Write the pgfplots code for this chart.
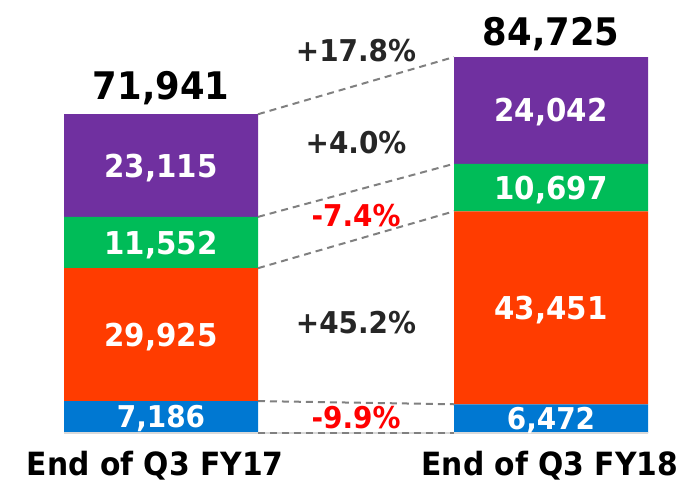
\documentclass[border=0pt]{standalone}
\usepackage{pgfplots}
\pgfplotsset{compat=1.18}
\usepackage{fontspec}
\setmainfont{DejaVu Sans}[FakeStretch=0.93]
\definecolor{cblue}{RGB}{0,120,210}
\definecolor{cred}{RGB}{255,60,0}
\definecolor{cgreen}{RGB}{0,188,88}
\definecolor{cpurple}{RGB}{112,48,160}
\definecolor{cpos}{RGB}{38,38,38}
\definecolor{cneg}{RGB}{255,0,0}
\definecolor{dline}{RGB}{128,128,128}
\definecolor{baseln}{RGB}{217,217,217}
\pgfplotsset{
  base/.style={scale only axis, width=687pt, height=482pt,
    xmin=-0.41282, xmax=1.34872, ymin=-11034, ymax=97500,
    axis lines=none, clip=false},
}
\tikzset{lab/.style={anchor=center, text height=0.729*#1 pt, text depth=0pt, inner sep=0pt,
   font=\bfseries\fontsize{#1}{#1}\selectfont}}
\begin{document}
\begin{tikzpicture}
\begin{axis}[base, ybar stacked, bar width=194pt]
\addplot[fill=cblue, draw=none] coordinates {(0,7186) (1,6472)};
\addplot[fill=cred, draw=none] coordinates {(0,29925) (1,43451)};
\addplot[fill=cgreen, draw=none] coordinates {(0,11552) (1,10697)};
\addplot[fill=cpurple, draw=none] coordinates {(0,23115) (1,24042)};
\end{axis}
\begin{axis}[base]
\addplot[baseln, line width=1.5pt] coordinates {(-0.2487,0) (1.2487,0)};
\addplot[dline, line width=2pt, dash pattern=on 7pt off 5pt] coordinates {(0.2487,0) (0.7513,0)};
\addplot[dline, line width=2pt, dash pattern=on 7pt off 5pt] coordinates {(0.2487,7186) (0.7513,6472)};
\addplot[dline, line width=2pt, dash pattern=on 7pt off 5pt] coordinates {(0.2487,37111) (0.7513,49923)};
\addplot[dline, line width=2pt, dash pattern=on 7pt off 5pt] coordinates {(0.2487,48663) (0.7513,60620)};
\addplot[dline, line width=2pt, dash pattern=on 7pt off 5pt] coordinates {(0.2487,71778) (0.7513,84662)};
% segment labels
\node[lab=30, white] at (axis cs:0,3593) {7,186};
\node[lab=31.5, white] at (axis cs:0,22148) {29,925};
\node[lab=31.5, white] at (axis cs:0,42887) {11,552};
\node[lab=31.5, white] at (axis cs:0,60220) {23,115};
\node[lab=30, white] at (axis cs:1,3236) {6,472};
\node[lab=31.5, white] at (axis cs:1,28197) {43,451};
\node[lab=31.5, white] at (axis cs:1,55271) {10,697};
\node[lab=31.5, white] at (axis cs:1,72641) {24,042};
% totals
\node[lab=38, black] at (axis cs:0,78136) {71,941};
\node[lab=38, black] at (axis cs:1,90408) {84,725};
% changes
\node[lab=30, cpos] at (axis cs:0.5,86017) {+17.8\%};
\node[lab=30, cpos] at (axis cs:0.5,65300) {+4.0\%};
\node[lab=30, cneg] at (axis cs:0.5,48976) {-7.4\%};
\node[lab=30, cpos] at (axis cs:0.5,24769) {+45.2\%};
\node[lab=30, cneg] at (axis cs:0.5,3378) {-9.9\%};
% categories
\node[lab=32, black] at (axis cs:-0.015,-6868) {End of Q3 FY17};
\node[lab=32, black] at (axis cs:0.997,-6868) {End of Q3 FY18};
\end{axis}
\pgfresetboundingbox
\path[use as bounding box] (current axis.south west) rectangle (current axis.north east);
\end{tikzpicture}
\end{document}
